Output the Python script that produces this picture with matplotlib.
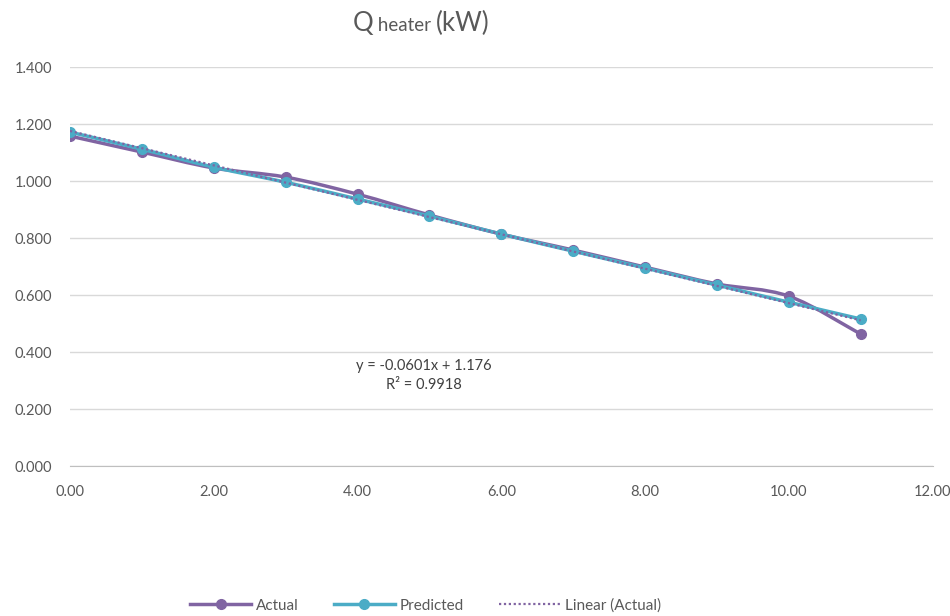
import numpy as np
import matplotlib.pyplot as plt
from matplotlib.path import Path
from matplotlib.patches import PathPatch
from matplotlib.lines import Line2D
from matplotlib.offsetbox import TextArea, HPacker, AnchoredOffsetbox

plt.rcParams['font.family'] = ['Lato', 'DejaVu Sans']

# Дані з графіка
x_vals = [0, 1, 2, 3, 4, 5, 6, 7, 8, 9, 10, 11]
actual = [1.158, 1.102, 1.046, 1.014, 0.954, 0.881, 0.814, 0.758, 0.698, 0.639, 0.596, 0.463]
predicted = [1.172, 1.112, 1.049, 0.996, 0.937, 0.877, 0.814, 0.754, 0.695, 0.635, 0.575, 0.516]
eq_text = "y = -0.0601x + 1.176\nR² = 0.9918"

purple = "#8064A2"
cyan = "#4BACC6"
grey = "#595959"


def smooth_path(xs, ys, t=1/6):
    """ Гладка крива через точки (як у Excel) з кубічних кривих Безьє"""
    xs = np.asarray(xs, float)
    ys = np.asarray(ys, float)
    n = len(xs)
    verts = [(xs[0], ys[0])]
    codes = [Path.MOVETO]
    for i in range(n - 1):
        p0 = np.array([xs[max(i - 1, 0)], ys[max(i - 1, 0)]])
        p1 = np.array([xs[i], ys[i]])
        p2 = np.array([xs[i + 1], ys[i + 1]])
        p3 = np.array([xs[min(i + 2, n - 1)], ys[min(i + 2, n - 1)]])
        c1 = p1 + (p2 - p0) * t
        c2 = p2 - (p3 - p1) * t
        verts += [tuple(c1), tuple(c2), tuple(p2)]
        codes += [Path.CURVE4] * 3
    return Path(verts, codes)


fig = plt.figure(figsize=(9.5, 6.16), dpi=100)
ax = fig.add_axes([0.0737, 0.2435, 0.908, 0.6475])

# Лінійний тренд по фактичних даних
k, b = np.polyfit(x_vals, actual, 1)
xt = np.array([x_vals[0], x_vals[-1]])
ax.plot(xt, k * xt + b, color=purple, lw=1.6, ls=(0, (1, 1.2)), zorder=5)

for ys, col, z in [(actual, purple, 3), (predicted, cyan, 4)]:
    ax.add_patch(PathPatch(smooth_path(x_vals, ys), fill=False, edgecolor=col,
                           lw=2.5, zorder=z, capstyle="round"))
    ax.plot(x_vals, ys, ls="none", marker="o", ms=7, color=col, zorder=z)

ax.text(4.92, 0.318, eq_text, ha="center", va="center", fontsize=10.5,
        color="#404040", linespacing=1.45)

ax.set_xlim(0, 12)
ax.set_ylim(0, 1.4)
ax.set_xticks(np.arange(0, 13, 2))
ax.set_yticks(np.arange(0, 1.41, 0.2))
ax.set_xticklabels([f"{v:.2f}" for v in np.arange(0, 13, 2)])
ax.set_yticklabels([f"{v:.3f}" for v in np.arange(0, 1.41, 0.2)])
ax.tick_params(length=0, labelsize=10.5, labelcolor=grey)
ax.tick_params(axis="x", pad=14)
ax.tick_params(axis="y", pad=13)
ax.grid(axis="y", color="#d9d9d9", lw=1)
ax.set_axisbelow(True)
for s in ["top", "right", "left"]:
    ax.spines[s].set_visible(False)
ax.spines["bottom"].set_color("#bfbfbf")

# Заголовок: "Q heater (kW)" з меншим "heater"
parts = [TextArea("Q", textprops=dict(size=18.5, color=grey)),
         TextArea(" heater ", textprops=dict(size=13.5, color=grey)),
         TextArea("(kW)", textprops=dict(size=18.5, color=grey))]
box = HPacker(children=parts, align="baseline", pad=0, sep=0)
title = AnchoredOffsetbox(loc="center", child=box, frameon=False,
                          bbox_to_anchor=(0.443, 0.962), bbox_transform=fig.transFigure)
fig.add_artist(title)

handles = [Line2D([], [], color=purple, lw=2.5, marker="o", ms=7),
           Line2D([], [], color=cyan, lw=2.5, marker="o", ms=7),
           Line2D([], [], color=purple, lw=1.6, ls=(0, (1, 1.2)))]
fig.legend(handles, ["Actual", "Predicted", "Linear (Actual)"], loc="center",
           bbox_to_anchor=(0.448, 0.017), ncol=3, frameon=False, fontsize=11,
           labelcolor=grey, handlelength=4, columnspacing=2.3, handletextpad=0.3,
           markerfirst=True)

fig.savefig("out.png", dpi=100)
